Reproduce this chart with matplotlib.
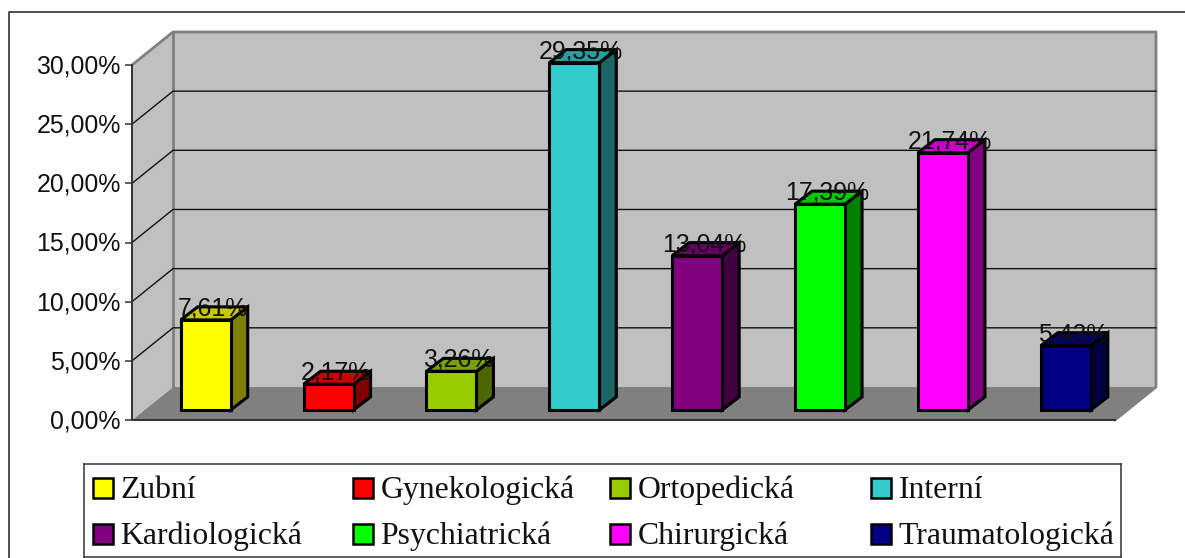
import matplotlib
matplotlib.use('Agg')
import matplotlib.pyplot as plt
from matplotlib.lines import Line2D
from matplotlib.patches import Polygon, Rectangle
from matplotlib.transforms import ScaledTranslation

W, H = 1185, 558

categories = ['Zubní', 'Gynekologická', 'Ortopedická', 'Interní',
              'Kardiologická', 'Psychiatrická', 'Chirurgická', 'Traumatologická']
values = [7.61, 2.17, 3.26, 29.35, 13.04, 17.39, 21.74, 5.43]
value_labels = ['7,61%', '2,17%', '3,26%', '29,35%', '13,04%', '17,39%', '21,74%', '5,43%']
colors = ['#FFFF00', '#FF0000', '#99CC00', '#33CCCC', '#800080', '#00FF00', '#FF00FF', '#000080']
top_colors = ['#C8C800', '#C80000', '#78A000', '#289F9F', '#640064', '#00C800', '#C800C8', '#000064']
side_colors = ['#808000', '#800000', '#4D6600', '#1A6666', '#400040', '#008000', '#800080', '#000040']
y_ticks = [0, 5, 10, 15, 20, 25, 30]
y_tick_labels = ['0,00%', '5,00%', '10,00%', '15,00%', '20,00%', '25,00%', '30,00%']

# fake 3d offsets, in data units
wall_dx, wall_dy = 0.3337, 2.79
bar_dx, bar_dy = 0.138, 1.10
bar_w = 0.407
bar_x_shift, bar_y_shift = 0.10, 0.85

fig = plt.figure(figsize=(W / 100, H / 100), dpi=100, facecolor='white')

# outer frame only shows on the top and left
fig.add_artist(Line2D([8.5 / W, 8.5 / W, 1.0], [0, 1 - 12 / H, 1 - 12 / H], transform=fig.transFigure,
                      color='#202020', lw=1.1))

ax = fig.add_axes([132 / W, 1 - 420 / H, (1115 - 132) / W, (420 - 65) / H])
ax.set_xlim(0, 8)
ax.set_ylim(0, 30)
ax.patch.set_visible(False)
for s in ax.spines.values():
    s.set_visible(False)
ax.set_xticks([])
ax.set_yticks(y_ticks)
ax.set_yticklabels(y_tick_labels, fontsize=17.9, family='Liberation Sans', color='#111111')
ax.tick_params(axis='y', length=5, width=1.1, color='#333333', pad=3)
for lab in ax.get_yticklabels():
    lab.set_transform(lab.get_transform() + ScaledTranslation(0, 1 / 100, fig.dpi_scale_trans))


def poly(pts, fc, ec='none', lw=0, z=1, join='miter'):
    p = Polygon(pts, closed=True, fc=fc, ec=ec, lw=lw, zorder=z, clip_on=False, joinstyle=join)
    ax.add_patch(p)


# walls and floor
poly([(0, 0), (wall_dx, wall_dy), (8 + wall_dx, wall_dy), (8, 0)], '#808080', z=1)
poly([(wall_dx, wall_dy), (wall_dx, 30 + wall_dy), (8 + wall_dx, 30 + wall_dy), (8 + wall_dx, wall_dy)],
     '#C0C0C0', z=1)
poly([(0, 0), (0, 30), (wall_dx, 30 + wall_dy), (wall_dx, wall_dy)], '#C0C0C0', z=1)

kw = dict(color='#808080', lw=2, zorder=2, clip_on=False, solid_capstyle='projecting')
ax.plot([wall_dx, wall_dx], [wall_dy, 30 + wall_dy], **kw)
ax.plot([0, wall_dx, 8 + wall_dx, 8 + wall_dx, 8], [30, 30 + wall_dy, 30 + wall_dy, wall_dy, 0], **kw)

# gridlines run along the side wall and the back wall
for t in y_ticks[1:-1]:
    ax.plot([0, wall_dx, 8 + wall_dx], [t, t + wall_dy, t + wall_dy], color='#111111', lw=1.0,
            zorder=3, clip_on=False)

ax.plot([0, 0, 8], [30, 0, 0], color='#333333', lw=1.4, zorder=4, clip_on=False)

# bars
edge = dict(ec='black', lw=2.2, z=6)
for i, v in enumerate(values):
    x0 = i + 0.5 + bar_x_shift - bar_w / 2
    x1 = x0 + bar_w
    y0 = bar_y_shift
    y1 = y0 + v
    poly([(x1, y0), (x1 + bar_dx, y0 + bar_dy), (x1 + bar_dx, y1 + bar_dy), (x1, y1)], side_colors[i], **edge)
    poly([(x0, y1), (x0 + bar_dx, y1 + bar_dy), (x1 + bar_dx, y1 + bar_dy), (x1, y1)], top_colors[i], **edge)
    poly([(x0, y0), (x1, y0), (x1, y1), (x0, y1)], colors[i], **edge)
    ax.text((x0 + x1) / 2 + 0.057, y1 + 0.38, value_labels[i], ha='center', va='baseline', fontsize=17.9,
            family='Liberation Sans', color='#111111', zorder=8, clip_on=False)

# legend box with two rows of four entries
lax = fig.add_axes([83.5 / W, 1 - 557 / H, (1121 - 83.5) / W, (557 - 463.5) / H])
lax.set_xlim(0, 1037.5)
lax.set_ylim(93.5, 0)
lax.set_xticks([])
lax.set_yticks([])
for s in lax.spines.values():
    s.set_color('#333333')
    s.set_linewidth(1.1)
col_x = [9, 269, 526, 787]
row_y = [24, 70.5]
for i, name in enumerate(categories):
    cx = col_x[i % 4]
    cy = row_y[i // 4]
    lax.add_patch(Rectangle((cx, cy - 10), 20.5, 20, fc=colors[i], ec='black', lw=1.8))
    lax.text(cx + 28, cy + 10, name, ha='left', va='baseline', fontsize=22.9, family='Liberation Serif',
             color='#111111')

fig.savefig('out.png', dpi=100)
